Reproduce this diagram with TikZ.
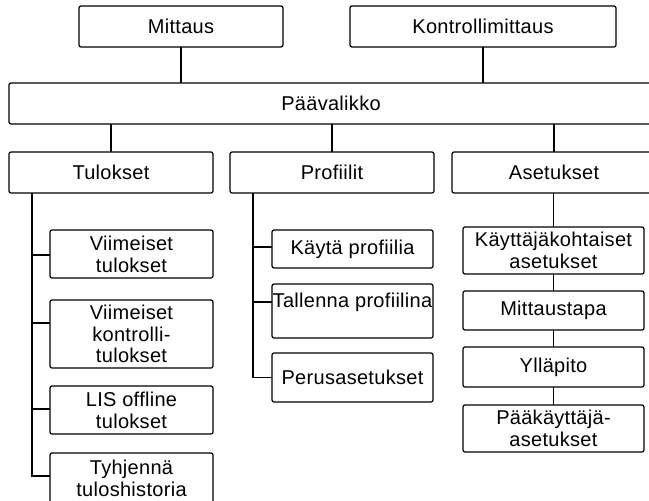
\documentclass[tikz,border=0pt]{standalone}
\usepackage{fontspec}
\setmainfont[LetterSpace=1.5]{Liberation Sans}
\begin{document}
\begin{tikzpicture}[x=1pt,y=-1pt,
  box/.style={draw, line width=1.2pt, rounded corners=2pt, inner sep=0pt, outer sep=0pt,
    align=center, font=\fontsize{20}{21.7}\selectfont},
  link/.style={line width=1.2pt}]
\useasboundingbox (0,0) rectangle (649,501);
\clip (0,0) rectangle (649,501);
% top
\node[box, minimum width=204, minimum height=41] (mittaus) at (181,26.5) {Mittaus};
\node[box, minimum width=266, minimum height=41] (kontroll) at (483,26.5) {Kontrollimittaus};
\node[box, minimum width=644, minimum height=41] (paav) at (331,103.5) {Päävalikko};
% level 2
\node[box, minimum width=204, minimum height=41] (tulokset) at (111,172.5) {Tulokset};
\node[box, minimum width=204, minimum height=41] (profiilit) at (332,172.5) {Profiilit};
\node[box, minimum width=204, minimum height=41] (asetukset) at (554,172.5) {Asetukset};
% Tulokset children
\node[box, minimum width=163, minimum height=48] (vt) at (131.5,254) {Viimeiset\\tulokset};
\node[box, minimum width=163, minimum height=68] (vkt) at (131.5,334) {Viimeiset\\kontrolli-\\tulokset};
\node[box, minimum width=163, minimum height=48] (lis) at (131.5,410) {LIS offline\\tulokset};
\node[box, minimum width=163, minimum height=50] (tyh) at (131.5,478) {Tyhjennä\\tuloshistoria};
% Profiilit children
\node[box, minimum width=161, minimum height=38] (kp) at (352.5,249) {Käytä profiilia};
\node[box, minimum width=161, minimum height=54] (tp) at (352.5,311) {Tallenna profiilina\\~};
\node[box, minimum width=161, minimum height=49] (pa) at (352.5,377.5) {Perusasetukset};
% Asetukset children
\node[box, minimum width=181, minimum height=47] (kk) at (553.5,250.5) {Käyttäjäkohtaiset\\asetukset};
\node[box, minimum width=181, minimum height=39] (mt) at (553.5,310.5) {Mittaustapa};
\node[box, minimum width=181, minimum height=40] (yl) at (553.5,367) {Ylläpito};
\node[box, minimum width=181, minimum height=47] (pk) at (553.5,428.5) {Pääkäyttäjä-\\asetukset};
% connectors top
\draw[link] (mittaus.south) -- (mittaus.south |- paav.north);
\draw[link] (kontroll.south) -- (kontroll.south |- paav.north);
\draw[link] (tulokset.north |- paav.south) -- (tulokset.north);
\draw[link] (profiilit.north |- paav.south) -- (profiilit.north);
\draw[link] (asetukset.north |- paav.south) -- (asetukset.north);
% Tulokset tree
\coordinate (ttrunk) at (32,193);
\draw[link] (ttrunk) |- ([yshift=-1pt]vt.west);
\draw[link] (ttrunk) |- ([yshift=11pt]vkt.west);
\draw[link] (ttrunk) |- ([yshift=1pt]lis.west);
\draw[link] (ttrunk) |- ([yshift=2pt]tyh.west);
% Profiilit tree
\coordinate (ptrunk) at (253,193);
\draw[link] (ptrunk) |- ([yshift=2pt]kp.west);
\draw[link] (ptrunk) |- ([yshift=9pt]tp.west);
\draw[link] (ptrunk) |- (pa.west);
% Asetukset chain
\draw[link] (asetukset.south -| kk.north) -- (kk.north);
\draw[link] (kk) -- (mt);
\draw[link] (mt) -- (yl);
\draw[link] (yl) -- (pk);
\end{tikzpicture}
\end{document}
